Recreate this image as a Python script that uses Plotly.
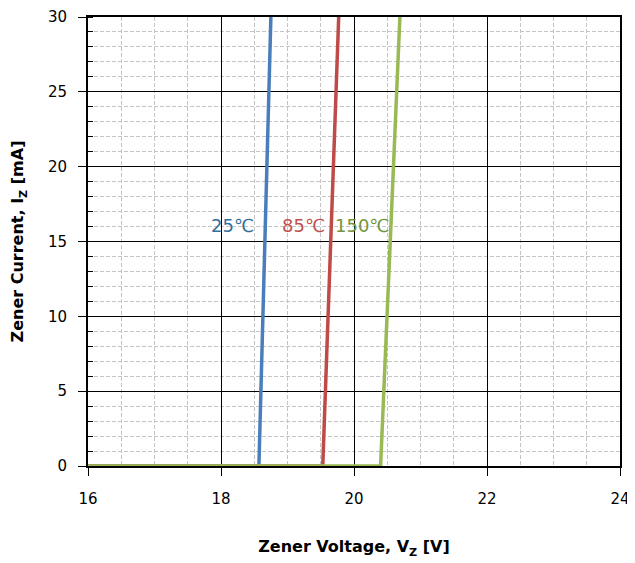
import plotly.graph_objects as go

v_25 = [16.0, 18.57, 18.75]
i_25 = [0, 0, 30]
v_85 = [16.0, 19.53, 19.77]
i_85 = [0, 0, 30]
v_150 = [16.0, 20.40, 20.69]
i_150 = [0, 0, 30]

labels = ["25℃", "85℃", "150℃"]
label_x = [18.17, 19.24, 20.13]
label_y = [16.1, 16.1, 16.1]
line_colors = ["#4A7EBB", "#BE4B48", "#98B954"]
text_colors = ["#31709C", "#C0504D", "#76923C"]

fig = go.Figure()
for vx, iy, c in [(v_25, i_25, line_colors[0]), (v_85, i_85, line_colors[1]), (v_150, i_150, line_colors[2])]:
    fig.add_trace(go.Scatter(x=vx, y=iy, mode="lines", line=dict(color=c, width=3.5), showlegend=False))

for t, x, y, c in zip(labels, label_x, label_y, text_colors):
    fig.add_annotation(x=x, y=y, text=t, showarrow=False, font=dict(family="DejaVu Sans", size=18, color=c))

axis_common = dict(
    showline=True, linecolor="black", linewidth=2, mirror=True,
    gridcolor="black", gridwidth=1.3, zeroline=False,
    ticks="outside", ticklen=8, tickcolor="black", automargin=False,
    ticklabeloverflow="allow",
    tickfont=dict(family="DejaVu Sans", size=15, color="black"),
)

fig.update_xaxes(range=[16, 24], dtick=2, tick0=16, ticklabelstandoff=10,
                 minor=dict(dtick=0.5, showgrid=True, gridcolor="#C4C4C4", griddash="4px,2px", gridwidth=1),
                 title=dict(text="<b>Zener Voltage, V<sub>Z</sub> [V]</b>", font=dict(family="DejaVu Sans", size=16, color="black"), standoff=34),
                 **axis_common)
fig.update_yaxes(range=[0, 30], dtick=5, tick0=0, ticklabelstandoff=8,
                 minor=dict(dtick=1, showgrid=True, gridcolor="#C4C4C4", griddash="4px,2px", gridwidth=1, ticks="inside", ticklen=5, tickcolor="black"),
                 title=dict(text="<b>Zener Current, I<sub>Z</sub> [mA]</b>", font=dict(family="DejaVu Sans", size=16, color="black"), standoff=20),
                 **axis_common)

fig.update_layout(width=627, height=555, margin=dict(l=80, r=15, t=9, b=97),
                  plot_bgcolor="white", paper_bgcolor="white")

fig.write_html("out.html")
